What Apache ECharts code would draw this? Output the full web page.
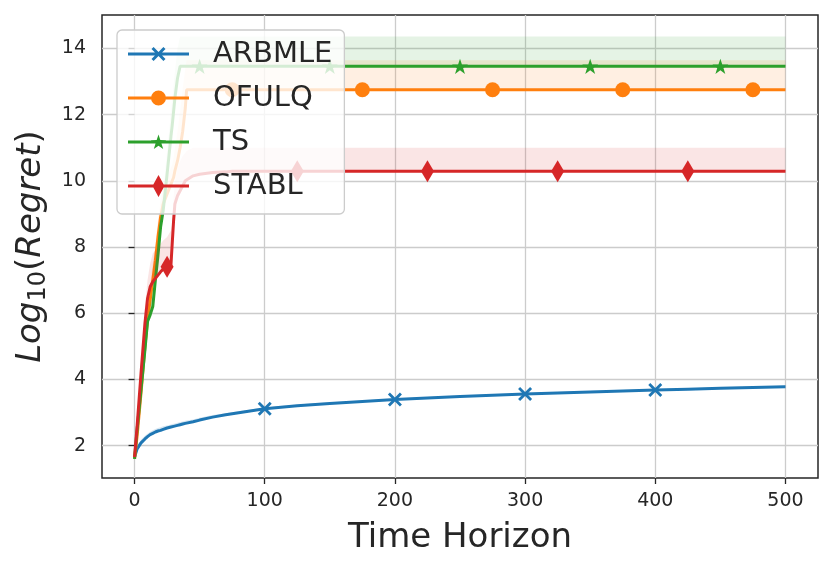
<!DOCTYPE html>
<html><head><meta charset="utf-8">
<script src="https://cdn.jsdelivr.net/npm/echarts@6/dist/echarts.min.js"></script>
<style>html,body{margin:0;padding:0;background:#fff}#c{width:830px;height:571px}</style>
</head><body><div id="c"></div>
<script>
// ---- data ----
const T = [0,2,5,8,10,12,14,16,18,20,22,25,28,29,30,31,33,35,37,39,40,45,50,60,70,75,80,100,125,150,175,200,225,250,275,300,325,350,375,400,425,450,475,500];

const ARBMLE    = [1.65,1.9,2.08,2.2,2.27,2.33,2.37,2.41,2.44,2.46,2.49,2.53,2.56,2.57,2.58,2.59,2.61,2.63,2.65,2.67,2.68,2.72,2.77,2.86,2.93,2.96,2.99,3.11,3.2,3.27,3.33,3.39,3.44,3.48,3.52,3.56,3.59,3.62,3.65,3.68,3.705,3.73,3.755,3.78];
const ARBMLE_UP = [1.7,2.0,2.18,2.3,2.36,2.42,2.46,2.5,2.53,2.55,2.58,2.61,2.64,2.65,2.66,2.67,2.69,2.71,2.73,2.75,2.76,2.79,2.84,2.92,2.98,3.01,3.04,3.15,3.24,3.31,3.36,3.42,3.47,3.51,3.55,3.59,3.62,3.65,3.68,3.71,3.735,3.76,3.785,3.81];

const OFULQ     = [1.6,2.3,3.6,5.0,5.8,6.4,7.0,7.6,8.3,8.9,9.3,9.6,9.9,10.0,10.1,10.3,10.6,11.0,11.5,12.2,12.75,12.75,12.75,12.75,12.75,12.75,12.75,12.75,12.75,12.75,12.75,12.75,12.75,12.75,12.75,12.75,12.75,12.75,12.75,12.75,12.75,12.75,12.75,12.75];
const OFULQ_UP  = [1.65,2.5,3.9,5.4,6.3,6.9,7.5,8.1,8.8,9.4,9.8,10.1,10.4,10.5,10.7,11.0,11.5,12.1,12.8,13.4,13.64,13.64,13.64,13.64,13.64,13.64,13.64,13.64,13.64,13.64,13.64,13.64,13.64,13.64,13.64,13.64,13.64,13.64,13.64,13.64,13.64,13.64,13.64,13.64];

const TS        = [1.6,2.5,3.7,4.9,5.75,5.95,6.2,7.0,7.75,8.6,9.1,10.2,11.35,11.7,12.1,12.5,13.1,13.46,13.46,13.46,13.46,13.46,13.46,13.46,13.46,13.46,13.46,13.46,13.46,13.46,13.46,13.46,13.46,13.46,13.46,13.46,13.46,13.46,13.46,13.46,13.46,13.46,13.46,13.46];
const TS_UP     = [1.65,2.7,4.0,5.2,6.0,6.3,6.6,7.4,8.2,9.0,9.7,10.9,12.1,12.5,12.9,13.3,14.0,14.36,14.36,14.36,14.36,14.36,14.36,14.36,14.36,14.36,14.36,14.36,14.36,14.36,14.36,14.36,14.36,14.36,14.36,14.36,14.36,14.36,14.36,14.36,14.36,14.36,14.36,14.36];

const STABL     = [1.65,2.6,4.2,5.7,6.45,6.8,6.95,7.05,7.15,7.25,7.33,7.4,7.48,7.5,8.8,9.3,9.55,9.7,9.85,10.0,10.05,10.15,10.2,10.25,10.27,10.29,10.29,10.29,10.29,10.29,10.29,10.29,10.29,10.29,10.29,10.29,10.29,10.29,10.29,10.29,10.29,10.29,10.29,10.29];
const STABL_UP  = [1.7,2.9,4.6,6.2,7.0,7.5,7.8,7.9,8.0,8.1,8.2,8.3,8.5,8.7,9.5,10.0,10.4,10.6,10.75,10.85,10.9,11.0,11.0,11.0,11.0,11.0,11.0,11.0,11.0,11.0,11.0,11.0,11.0,11.0,11.0,11.0,11.0,11.0,11.0,11.0,11.0,11.0,11.0,11.0];

const MARK_ARBMLE = [100,200,300,400];
const MARK_OFULQ  = [75,175,275,375,475];
const MARK_TS     = [50,150,250,350,450];
const MARK_STABL  = [25,125,225,325,425];

const X_TICKS = [0,100,200,300,400,500];
const Y_TICKS = [2,4,6,8,10,12,14];
const NAMES = ['ARBMLE','OFULQ','TS','STABL'];

// ---- styling helpers ----
const FONT = 'DejaVu Sans';
const C = {ARBMLE:'#1f77b4', OFULQ:'#ff7f0e', TS:'#2ca02c', STABL:'#d62728'};

function xPoly(cx, cy, s, d) {
  const p = [[-s,-s+d],[-s+d,-s],[0,-d],[s-d,-s],[s,-s+d],[d,0],[s,s-d],[s-d,s],[0,d],[-s+d,s],[-s,s-d],[-d,0]];
  return p.map((q,i)=>(i?'L':'M')+(cx+q[0]).toFixed(2)+','+(cy+q[1]).toFixed(2)).join('')+'Z';
}
function starPoly(cx, cy, R, r) {
  let s='';
  for (let k=0;k<10;k++){ const a=-Math.PI/2+k*Math.PI/5; const rad=k%2?r:R;
    s+=(k?'L':'M')+(cx+rad*Math.cos(a)).toFixed(2)+','+(cy+rad*Math.sin(a)).toFixed(2); }
  return s+'Z';
}
function circlePath(cx, cy, r) {
  return 'M'+(cx-r)+','+cy+'A'+r+','+r+' 0 1,1 '+(cx+r)+','+cy+'A'+r+','+r+' 0 1,1 '+(cx-r)+','+cy+'Z';
}
function diamondPath(cx, cy, w, h) {
  return 'M'+cx+','+(cy-h/2)+'L'+(cx+w/2)+','+cy+'L'+cx+','+(cy+h/2)+'L'+(cx-w/2)+','+cy+'Z';
}
const IW = 61, IH = 22;
const legendLine = 'M0,0L0.01,0Z M'+IW+','+IH+'L'+(IW-0.01)+','+IH+'Z M0,9.5L'+IW+',9.5L'+IW+',12.5L0,12.5Z ';
const ICONS = {
  ARBMLE: 'path://' + legendLine + xPoly(30.5, 11, 7, 2.1),
  OFULQ:  'path://' + legendLine + circlePath(30.5, 11, 7.5),
  TS:     'path://' + legendLine + starPoly(30.5, 11.6, 8, 3.1),
  STABL:  'path://' + legendLine + diamondPath(30.5, 11, 12, 22)
};
const SYM = {
  ARBMLE: {symbol:'path://'+xPoly(0,0,7,2), size:14},
  OFULQ:  {symbol:'circle', size:15},
  TS:     {symbol:'path://'+starPoly(0,0,7,2.7), size:16},
  STABL:  {symbol:'diamond', size:[13,22]}
};
const LINES = {ARBMLE, OFULQ, TS, STABL};
const UPS = {ARBMLE:ARBMLE_UP, OFULQ:OFULQ_UP, TS:TS_UP, STABL:STABL_UP};
const MARKS = {ARBMLE:MARK_ARBMLE, OFULQ:MARK_OFULQ, TS:MARK_TS, STABL:MARK_STABL};
const BAND = {ARBMLE:'rgba(31,119,180,0.18)', OFULQ:'rgba(255,127,14,0.12)', TS:'rgba(44,160,44,0.12)', STABL:'rgba(214,39,40,0.12)'};

const series = [];
NAMES.forEach((n, k) => {
  const lo = LINES[n], hi = UPS[n];
  series.push({
    type:'custom', name:n+' band', silent:true, z: 2 + k*2,
    data:[[0,2]],
    renderItem: function(params, api){
      const pts=[];
      for (let i=0;i<T.length;i++) pts.push(api.coord([T[i], hi[i]]));
      for (let i=T.length-1;i>=0;i--) pts.push(api.coord([T[i], lo[i]]));
      return {type:'polygon', shape:{points:pts}, style:{fill:BAND[n]}};
    }
  });
  series.push({
    type:'line', name:n, z: 3 + k*2,
    data: T.map((t,i)=>[t, lo[i]]),
    color: C[n],
    lineStyle:{width:3, color:C[n]},
    itemStyle:{color:C[n]},
    symbol: SYM[n].symbol,
    symbolKeepAspect:true,
    symbolSize: function(v){ return MARKS[n].indexOf(v[0])>=0 ? SYM[n].size : 0; },
    showSymbol:true,
    silent:true
  });
});

const chart = echarts.init(document.getElementById('c'), null, {renderer:'canvas'});
chart.setOption({
  animation:false,
  backgroundColor:'#ffffff',
  textStyle:{fontFamily:FONT},
  grid:{left:102, right:12, top:15, bottom:93, show:true, borderColor:'#262626', borderWidth:1.5, backgroundColor:'transparent', containLabel:false},
  legend:{
    z:50, zlevel:0,
    data: NAMES.map(n=>({name:n, icon:ICONS[n]})),
    orient:'vertical', left:117, top:30,
    itemWidth:IW, itemHeight:IH, itemGap:14,
    padding:[9,12,13,11],
    backgroundColor:'rgba(255,255,255,0.8)',
    borderColor:'#cccccc', borderWidth:1.3, borderRadius:5,
    selectedMode:false,
    textStyle:{fontSize:29, color:'#262626', fontFamily:FONT, lineHeight:30, padding:[0,0,0,19]}
  },
  xAxis:{
    type:'value', min:-25, max:525, splitNumber:5,
    axisLine:{show:false},
    axisTick:{show:true, length:6, customValues:X_TICKS, lineStyle:{color:'#262626', width:1.3}},
    axisLabel:{customValues:X_TICKS, fontSize:19, color:'#262626', margin:14, fontFamily:FONT},
    splitLine:{show:true, lineStyle:{color:'#cccccc', width:1.3}},
    name:'Time Horizon', nameLocation:'middle', nameGap:43,
    nameTextStyle:{fontSize:34, color:'#262626', fontFamily:FONT}
  },
  yAxis:{
    type:'value', min:1.02, max:15.01, splitNumber:7,
    axisLine:{show:false},
    axisTick:{show:true, length:6, customValues:Y_TICKS, lineStyle:{color:'#262626', width:1.3}},
    axisLabel:{customValues:Y_TICKS, fontSize:19, color:'#262626', margin:16, fontFamily:FONT},
    splitLine:{show:true, lineStyle:{color:'#cccccc', width:1.3}},
    name:'{i|Log}{s|10}{n|(}{i|Regret}{n|)}', nameLocation:'middle', nameGap:50, nameRotate:90,
    nameTextStyle:{color:'#262626', fontFamily:FONT, fontSize:34,
      rich:{
        i:{fontStyle:'italic', fontSize:34, lineHeight:40, color:'#262626', fontFamily:FONT},
        n:{fontSize:34, lineHeight:40, color:'#262626', fontFamily:FONT},
        s:{fontSize:24, lineHeight:24, verticalAlign:'bottom', color:'#262626', fontFamily:FONT}
      }}
  },
  series: series
});
</script>
</body></html>
